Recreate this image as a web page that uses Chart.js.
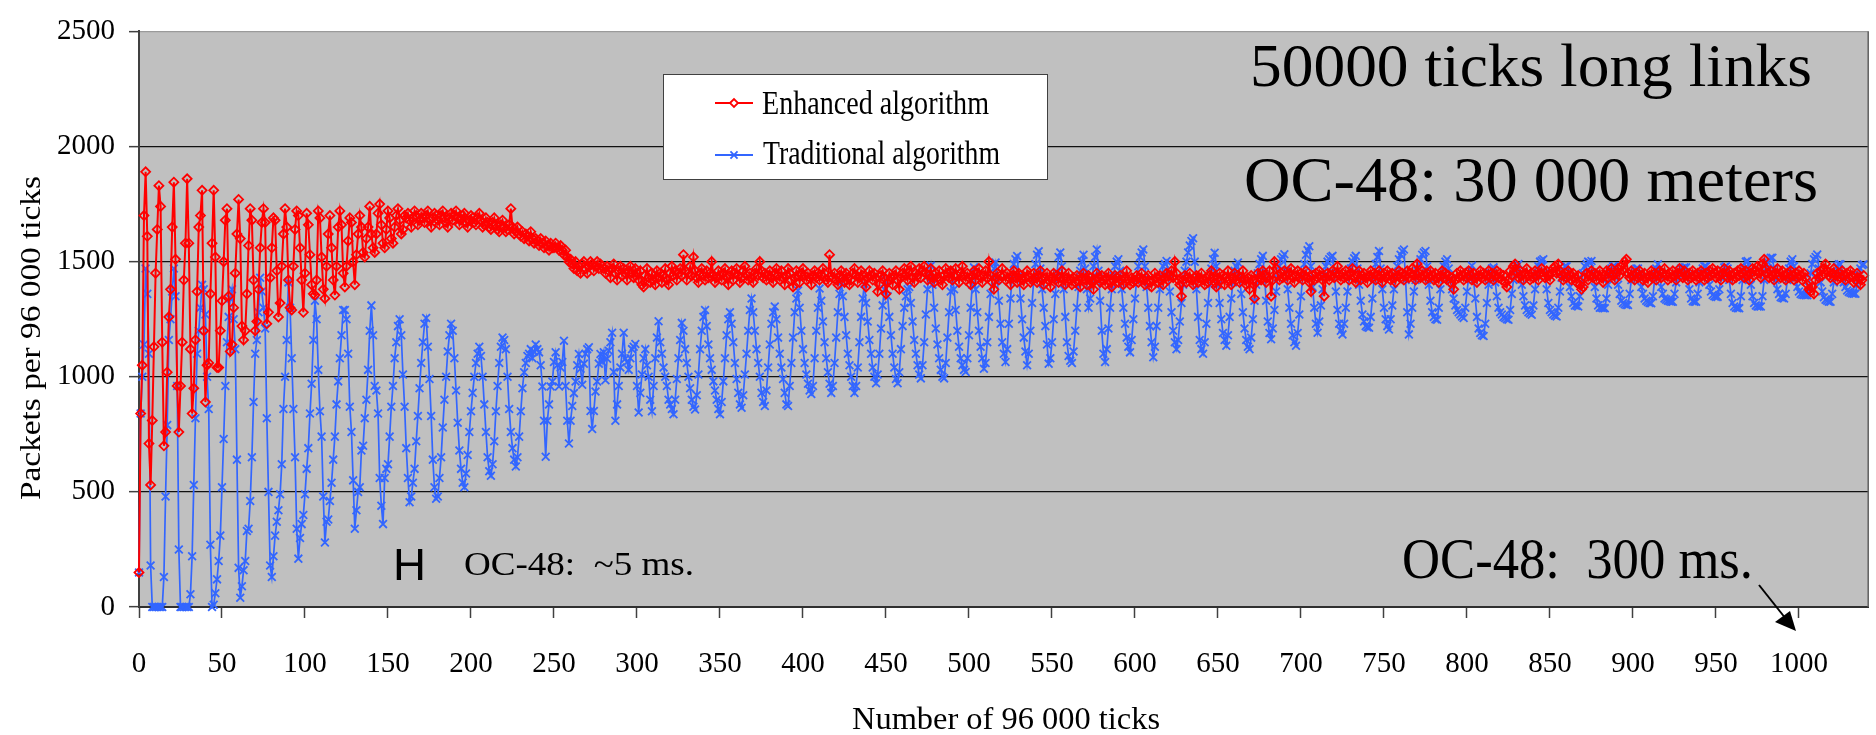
<!DOCTYPE html>
<html>
<head>
<meta charset="utf-8">
<title>Packets per 96 000 ticks</title>
<script src="https://cdn.jsdelivr.net/npm/chart.js@4.4.1/dist/chart.umd.min.js"></script>
<style>
  html, body { margin: 0; padding: 0; background: #fff; }
  canvas { display: block; }
</style>
</head>
<body>
<canvas id="packetsChart" width="1876" height="735"></canvas>
<script>
// ------------------------------------------------------------
// Data: packets per 96 000 ticks, one value per interval
// ------------------------------------------------------------
const seriesNames = ['Enhanced algorithm', 'Traditional algorithm'];

const enhanced = [
  150,840,1050,1700,1890,1610,710,530,810,1130,1450,1640,1830,1740,1150,700,760,1020,1260,1380,
  1650,1845,1510,960,760,960,1150,1420,1580,1860,1580,1120,840,950,1160,1370,1650,1700,1810,1200,
  890,1050,1060,1360,1580,1810,1520,1040,1040,1200,1330,1500,1680,1730,1350,1110,1140,1300,1450,1620,
  1770,1600,1220,1160,1200,1360,1570,1730,1680,1420,1200,1240,1380,1560,1670,1730,1670,1230,1280,1430,
  1560,1690,1680,1460,1260,1320,1480,1620,1730,1650,1420,1300,1290,1480,1640,1720,1700,1560,1420,1280,
  1450,1710,1660,1530,1400,1360,1355,1420,1720,1690,1520,1380,1340,1480,1620,1700,1560,1420,1355,1480,
  1650,1720,1660,1450,1390,1480,1590,1690,1670,1500,1400,1530,1620,1700,1650,1540,1520,1600,1650,1740,
  1620,1560,1540,1620,1710,1750,1660,1580,1560,1640,1720,1690,1600,1580,1650,1700,1730,1680,1620,1640,
  1700,1690,1710,1680,1650,1690,1720,1700,1660,1680,1710,1690,1670,1700,1720,1680,1650,1690,1710,1700,
  1680,1660,1700,1720,1690,1670,1650,1690,1710,1680,1700,1720,1690,1660,1680,1700,1710,1670,1650,1680,
  1700,1690,1670,1660,1690,1710,1680,1650,1660,1690,1670,1650,1640,1670,1690,1660,1640,1630,1660,1680,
  1650,1630,1640,1660,1730,1650,1620,1630,1650,1620,1610,1630,1600,1620,1610,1590,1630,1600,1580,1600,
  1590,1570,1600,1580,1560,1590,1570,1550,1580,1560,1560,1580,1560,1550,1570,1550,1530,1550,1520,1500,
  1510,1490,1470,1500,1460,1480,1450,1490,1500,1470,1450,1480,1500,1490,1460,1480,1500,1470,1490,1480,
  1470,1450,1480,1460,1430,1470,1490,1450,1420,1460,1480,1440,1470,1450,1420,1460,1480,1450,1430,1470,
  1450,1420,1460,1400,1390,1440,1470,1430,1410,1450,1420,1400,1460,1430,1450,1410,1440,1470,1420,1400,
  1450,1480,1440,1460,1420,1450,1470,1440,1530,1460,1420,1450,1480,1440,1520,1460,1430,1410,1450,1470,
  1440,1420,1460,1430,1450,1500,1440,1410,1430,1460,1440,1420,1450,1470,1430,1400,1440,1460,1420,1450,
  1470,1440,1410,1430,1460,1480,1440,1420,1450,1430,1410,1450,1470,1440,1500,1460,1430,1450,1420,1440,
  1460,1430,1410,1450,1470,1440,1420,1460,1430,1400,1440,1470,1450,1420,1390,1430,1460,1440,1410,1450,
  1470,1440,1420,1450,1430,1400,1440,1460,1430,1450,1420,1440,1470,1450,1420,1410,1530,1440,1430,1450,
  1420,1400,1440,1460,1430,1410,1450,1430,1400,1420,1450,1470,1440,1410,1430,1460,1440,1420,1390,1430,
  1460,1440,1420,1450,1430,1370,1400,1440,1460,1430,1360,1410,1450,1430,1400,1440,1460,1420,1380,1430,
  1450,1470,1440,1420,1460,1480,1430,1410,1450,1440,1470,1430,1460,1480,1450,1420,1440,1470,1430,1410,
  1450,1430,1460,1420,1400,1440,1470,1450,1430,1460,1420,1440,1470,1440,1410,1450,1480,1440,1420,1450,
  1430,1400,1440,1460,1420,1450,1470,1430,1410,1440,1460,1430,1500,1440,1410,1380,1430,1450,1420,1440,
  1470,1440,1420,1450,1430,1400,1440,1460,1430,1410,1450,1440,1420,1400,1430,1460,1440,1410,1420,1450,
  1430,1410,1440,1460,1420,1400,1430,1450,1420,1390,1430,1450,1420,1440,1410,1430,1460,1420,1400,1430,
  1450,1420,1400,1430,1410,1440,1420,1390,1430,1450,1420,1400,1440,1430,1410,1380,1420,1450,1430,1410,
  1440,1420,1400,1430,1450,1410,1390,1420,1440,1430,1410,1440,1420,1400,1430,1460,1420,1400,1430,1410,
  1420,1440,1410,1430,1450,1420,1400,1430,1440,1410,1390,1420,1450,1430,1410,1440,1420,1400,1430,1450,
  1420,1440,1460,1430,1500,1450,1420,1400,1350,1420,1440,1410,1430,1450,1420,1400,1430,1440,1410,1430,
  1450,1420,1400,1430,1410,1440,1460,1430,1410,1390,1430,1450,1420,1440,1400,1430,1460,1420,1400,1430,
  1450,1420,1440,1410,1430,1460,1420,1400,1430,1380,1440,1420,1340,1410,1450,1430,1420,1460,1440,1410,
  1430,1460,1350,1420,1500,1470,1440,1420,1450,1430,1460,1440,1420,1450,1470,1430,1410,1440,1460,1430,
  1450,1420,1440,1460,1430,1410,1370,1440,1420,1450,1430,1460,1440,1420,1350,1430,1450,1420,1440,1460,
  1430,1450,1480,1440,1420,1450,1430,1460,1440,1420,1450,1470,1430,1410,1440,1460,1420,1440,1450,1430,
  1410,1440,1460,1430,1450,1420,1440,1460,1430,1410,1450,1430,1460,1440,1420,1450,1430,1410,1440,1460,
  1430,1450,1420,1440,1460,1430,1450,1470,1440,1420,1490,1450,1430,1460,1440,1420,1450,1430,1460,1440,
  1420,1450,1430,1410,1440,1460,1430,1450,1420,1440,1410,1430,1380,1420,1450,1430,1460,1440,1420,1450,
  1430,1460,1440,1420,1450,1430,1410,1440,1460,1430,1450,1420,1440,1460,1430,1450,1420,1440,1460,1430,
  1450,1420,1440,1410,1390,1420,1460,1440,1480,1490,1450,1430,1460,1440,1420,1450,1470,1440,1420,1450,
  1430,1460,1440,1420,1450,1470,1440,1430,1460,1440,1420,1450,1470,1480,1450,1490,1460,1440,1420,1450,
  1430,1460,1440,1420,1450,1430,1410,1440,1400,1380,1390,1430,1450,1420,1440,1460,1430,1450,1420,1440,
  1460,1430,1410,1440,1460,1430,1450,1470,1440,1420,1450,1470,1440,1480,1460,1500,1510,1450,1430,1460,
  1440,1420,1450,1430,1460,1440,1420,1450,1430,1410,1440,1460,1430,1450,1420,1440,1460,1430,1450,1470,
  1440,1420,1450,1430,1460,1440,1420,1450,1470,1440,1430,1460,1440,1420,1450,1430,1460,1440,1420,1450,
  1430,1460,1440,1420,1450,1430,1460,1440,1470,1450,1430,1460,1440,1420,1450,1470,1440,1430,1460,1440,
  1420,1450,1430,1460,1440,1470,1450,1430,1460,1440,1420,1450,1470,1440,1460,1480,1450,1430,1490,1510,
  1470,1450,1430,1460,1440,1420,1450,1470,1440,1430,1460,1440,1420,1450,1430,1460,1440,1420,1450,1430,
  1460,1440,1420,1450,1430,1400,1380,1370,1390,1360,1420,1450,1430,1460,1440,1470,1490,1460,1440,1430,
  1450,1470,1440,1420,1450,1430,1460,1440,1420,1450,1430,1460,1440,1410,1420,1450,1430,1400,1420,1440
];

const traditional = [
  150,840,1000,1140,1470,1360,1100,180,0,0,0,0,0,0,0,130,480,790,1160,1250,
  1370,1470,1350,960,250,0,0,0,0,0,0,55,220,530,820,1100,1200,1300,1400,1380,
  1270,1000,860,270,0,10,60,120,200,310,520,730,960,1150,1260,1340,1380,1250,1120,640,
  170,40,90,160,200,330,340,460,650,890,1100,1160,1280,1430,1370,1300,1210,820,500,180,
  130,220,310,370,420,490,620,860,1000,1160,1410,1300,1080,860,650,340,210,300,360,400,
  490,600,690,840,970,1160,1330,1250,1030,850,740,480,280,370,380,460,540,640,740,880,
  980,1080,1180,1290,1290,1250,1100,870,760,550,340,420,500,520,680,700,820,900,1030,1200,
  1310,1180,960,940,840,560,440,360,560,600,620,740,870,960,1080,1150,1220,1250,1180,1010,
  870,690,560,455,480,540,600,720,830,950,1060,1150,1230,1255,1130,990,830,640,520,470,
  480,560,650,780,900,1000,1110,1180,1230,1200,1080,940,800,680,600,540,520,580,660,760,
  850,930,1000,1060,1100,1130,1090,1000,880,760,650,590,570,620,720,850,960,1060,1130,1170,
  1160,1120,1000,860,760,690,640,610,650,740,850,950,1020,1060,1090,1100,1120,1080,1110,1140,
  1120,1106,1050,958,809,653,809,880,958,979,1064,1106,1050,958,1040,1064,1156,960,809,710,
  809,873,929,979,1050,1099,1035,965,1057,1100,1120,1128,851,773,851,936,979,1057,1099,1064,
  1106,985,1078,1113,1150,1191,1021,809,880,960,1040,1100,1191,1078,1064,1030,1080,1120,1130,1142,
  960,845,930,1010,1080,1120,1050,1000,900,850,960,1080,1170,1241,1150,1100,1040,1000,960,900,
  880,860,837,900,990,1080,1160,1234,1200,1120,1060,1000,950,900,870,858,920,1010,1120,1200,
  1260,1290,1220,1140,1080,1030,980,940,900,860,837,890,980,1080,1180,1250,1280,1230,1150,1060,
  990,930,880,865,920,1010,1100,1200,1290,1340,1280,1200,1120,1060,1000,930,890,873,940,1040,
  1140,1230,1280,1305,1250,1170,1100,1040,990,930,880,873,960,1060,1170,1280,1340,1375,1300,1200,
  1120,1060,1010,970,940,925,960,1080,1200,1300,1383,1330,1240,1150,1080,1020,970,930,960,1060,
  1170,1280,1360,1411,1350,1260,1180,1100,1050,1000,960,930,960,1040,1150,1260,1340,1404,1320,1240,
  1160,1100,1040,1000,972,1010,1100,1210,1310,1380,1418,1350,1260,1180,1100,1040,990,972,1020,1120,
  1220,1300,1350,1380,1390,1320,1240,1160,1100,1050,1010,993,1050,1150,1270,1380,1440,1482,1400,1300,
  1210,1140,1080,1030,1000,993,1060,1170,1280,1370,1440,1380,1290,1200,1130,1080,1050,1030,1021,1080,
  1180,1300,1400,1475,1380,1280,1200,1130,1080,1035,1060,1150,1260,1360,1430,1470,1496,1420,1330,1230,
  1150,1100,1064,1120,1230,1340,1430,1490,1510,1524,1440,1340,1250,1170,1110,1050,1100,1200,1320,1420,
  1490,1530,1545,1470,1380,1300,1220,1140,1057,1080,1150,1250,1360,1450,1520,1540,1480,1380,1260,1150,
  1090,1070,1060,1110,1200,1300,1390,1460,1500,1530,1470,1380,1300,1340,1420,1480,1520,1553,1460,1330,
  1200,1100,1064,1120,1210,1300,1380,1440,1480,1500,1510,1460,1380,1300,1230,1170,1130,1106,1160,1250,
  1340,1420,1480,1520,1540,1553,1480,1390,1300,1220,1150,1085,1130,1220,1300,1380,1440,1480,1490,1503,
  1450,1370,1280,1200,1150,1120,1160,1240,1320,1400,1460,1500,1540,1570,1590,1602,1500,1380,1260,1160,
  1120,1100,1150,1230,1320,1400,1470,1510,1539,1480,1400,1320,1250,1190,1160,1135,1180,1260,1340,1410,
  1460,1480,1496,1440,1360,1280,1210,1160,1130,1120,1170,1250,1330,1400,1450,1490,1510,1525,1440,1330,
  1240,1190,1163,1210,1290,1370,1430,1480,1510,1520,1532,1460,1380,1300,1230,1180,1150,1135,1190,1270,
  1350,1430,1490,1530,1550,1567,1480,1390,1300,1230,1191,1240,1310,1380,1440,1480,1500,1510,1520,1525,
  1450,1370,1290,1230,1200,1184,1230,1300,1370,1430,1470,1500,1515,1525,1470,1400,1330,1270,1240,1220,
  1215,1213,1260,1340,1420,1490,1520,1546,1470,1380,1300,1250,1220,1205,1250,1310,1380,1440,1480,1510,
  1530,1545,1553,1420,1280,1184,1230,1300,1370,1420,1460,1490,1510,1530,1540,1546,1480,1400,1330,1280,
  1260,1250,1248,1300,1380,1440,1480,1500,1510,1470,1420,1380,1340,1310,1290,1280,1270,1262,1255,1300,
  1370,1430,1460,1482,1420,1340,1260,1210,1190,1180,1177,1230,1320,1400,1450,1470,1475,1410,1350,1300,
  1280,1270,1260,1255,1250,1248,1290,1360,1420,1460,1480,1490,1450,1400,1350,1310,1290,1280,1275,1269,
  1310,1380,1440,1480,1500,1505,1510,1450,1380,1320,1290,1280,1270,1265,1262,1300,1370,1430,1460,1480,
  1480,1440,1390,1350,1320,1310,1308,1305,1350,1410,1450,1480,1490,1500,1495,1503,1450,1390,1340,1310,
  1300,1300,1298,1298,1340,1400,1450,1470,1480,1480,1440,1400,1360,1330,1320,1315,1312,1312,1360,1420,
  1450,1460,1470,1470,1430,1390,1360,1340,1330,1325,1320,1319,1350,1420,1470,1489,1440,1390,1360,1340,
  1335,1330,1328,1326,1326,1360,1410,1440,1460,1470,1472,1475,1475,1440,1380,1340,1328,1326,1326,1360,
  1410,1450,1470,1480,1480,1440,1400,1370,1355,1350,1347,1347,1380,1430,1460,1475,1480,1470,1420,1360,
  1320,1305,1300,1298,1298,1350,1420,1470,1500,1503,1460,1400,1350,1320,1310,1305,1305,1305,1350,1420,
  1470,1500,1510,1517,1517,1470,1420,1380,1360,1345,1342,1340,1360,1420,1470,1500,1510,1480,1430,1390,
  1370,1360,1356,1355,1354,1354,1390,1450,1490,1510,1520,1531,1470,1410,1370,1345,1335,1330,1326,1326,
  1360,1410,1450,1480,1489,1489,1450,1410,1390,1375,1368,1365,1362,1361,1361,1400,1440,1470,1485,1489
];

// interval numbers on the x axis (0, 1, 2, ...)
const intervals = enhanced.map((_, i) => i);

const xMax = 1042;
const xTickStep = 50;
const yMax = 2500;
const yTickStep = 500;

const yTitle = 'Packets per 96 000 ticks';
const xTitle = 'Number of 96 000 ticks';
const notes = {
    length: '50000 ticks long links',
    distance: 'OC-48: 30 000 meters',
    rtt: 'OC-48:  300 ms.',
    short: 'OC-48:  ~5 ms.'
};

const SERIF = 'Liberation Serif';

// draws text squeezed/stretched to a given width (the picture is not uniformly scaled)
function fitText(ctx, text, x, y, size, family, width, align, baseline, rotate) {
    ctx.save();
    ctx.font = size + 'px "' + family + '"';
    const w = ctx.measureText(text).width;
    ctx.translate(x, y);
    if (rotate) ctx.rotate(-Math.PI / 2);
    ctx.scale(width / w, 1);
    ctx.textAlign = align;
    ctx.textBaseline = baseline;
    ctx.fillStyle = '#000';
    ctx.fillText(text, 0, 0);
    ctx.restore();
}

// grey plot area on white page
const plotBackground = {
    id: 'plotBackground',
    beforeDraw(chart) {
        const { ctx, chartArea: a } = chart;
        ctx.save();
        ctx.fillStyle = '#ffffff';
        ctx.fillRect(0, 0, chart.width, chart.height);
        ctx.fillStyle = '#c0c0c0';
        ctx.fillRect(a.left, a.top, a.right - a.left, a.bottom - a.top);
        ctx.restore();
    }
};

// legend box, axis titles, notes and arrow
const decorations = {
    id: 'decorations',
    afterDraw(chart) {
        const { ctx, chartArea: a } = chart;
        ctx.save();

        // right frame line
        ctx.strokeStyle = '#606060';
        ctx.lineWidth = 1.5;
        ctx.beginPath();
        ctx.moveTo(a.right - 0.5, a.top);
        ctx.lineTo(a.right - 0.5, a.bottom);
        ctx.stroke();

        // legend
        ctx.fillStyle = '#ffffff';
        ctx.fillRect(663, 74, 384, 105);
        ctx.strokeStyle = '#404040';
        ctx.lineWidth = 1;
        ctx.strokeRect(663.5, 74.5, 384, 105);

        const rows = [103, 155];
        chart.data.datasets.forEach((ds, i) => {
            const y = rows[i];
            ctx.strokeStyle = ds.borderColor;
            ctx.lineWidth = 2;
            ctx.beginPath();
            ctx.moveTo(715, y);
            ctx.lineTo(753, y);
            ctx.stroke();
            ctx.lineWidth = ds.pointBorderWidth;
            Chart.helpers.drawPoint(ctx, {
                pointStyle: ds.pointStyle,
                radius: ds.pointRadius - 0.5,
                rotation: 0,
                borderWidth: ds.pointBorderWidth
            }, 734, y);
        });
        fitText(ctx, seriesNames[0], 762, 105, 34, SERIF, 227, 'left', 'middle');
        fitText(ctx, seriesNames[1], 763, 155, 34, SERIF, 237, 'left', 'middle');

        // axis titles
        fitText(ctx, yTitle, 32, 338, 29, SERIF, 324, 'center', 'middle', true);
        fitText(ctx, xTitle, 1006, 729, 32, SERIF, 308, 'center', 'alphabetic');

        // notes
        fitText(ctx, notes.length, 1250, 86, 62, SERIF, 562, 'left', 'alphabetic');
        fitText(ctx, notes.distance, 1244, 201, 64, SERIF, 574, 'left', 'alphabetic');
        fitText(ctx, notes.rtt, 1402, 578, 56, SERIF, 351, 'left', 'alphabetic');
        fitText(ctx, notes.short, 464, 575, 33, SERIF, 230, 'left', 'alphabetic');
        fitText(ctx, 'H', 393, 580, 45, 'Liberation Sans', 33, 'left', 'alphabetic');

        // arrow to the 1000 mark
        ctx.strokeStyle = '#000';
        ctx.fillStyle = '#000';
        ctx.lineWidth = 2;
        ctx.beginPath();
        ctx.moveTo(1759, 585);
        ctx.lineTo(1786, 619);
        ctx.stroke();
        ctx.beginPath();
        ctx.moveTo(1796, 631);
        ctx.lineTo(1775, 622);
        ctx.lineTo(1790, 611);
        ctx.closePath();
        ctx.fill();

        ctx.restore();
    }
};

const packetsChart = new Chart(document.getElementById('packetsChart'), {
    type: 'line',
    data: {
        datasets: [
            {
                label: seriesNames[0],
                data: enhanced.map((v, i) => ({ x: intervals[i], y: v })),
                borderColor: '#ff0000',
                borderWidth: 2,
                pointStyle: 'rectRot',
                pointRadius: 4.5,
                pointBorderWidth: 1.8,
                pointBorderColor: '#ff0000',
                pointBackgroundColor: 'rgba(0,0,0,0)',
                tension: 0,
                clip: false
            },
            {
                label: seriesNames[1],
                data: traditional.map((v, i) => ({ x: intervals[i], y: v })),
                borderColor: '#3366ff',
                borderWidth: 1.7,
                pointStyle: 'crossRot',
                pointRadius: 5.5,
                pointBorderWidth: 1.8,
                pointBorderColor: '#3366ff',
                pointBackgroundColor: '#3366ff',
                tension: 0,
                clip: false
            }
        ]
    },
    options: {
        responsive: false,
        animation: false,
        events: [],
        layout: { padding: { top: 19, right: 1, left: 0, bottom: 0 } },
        plugins: {
            legend: { display: false },
            tooltip: { enabled: false }
        },
        scales: {
            x: {
                type: 'linear',
                min: 0,
                max: xMax,
                afterFit: (s) => { s.height = 128; },
                ticks: {
                    stepSize: xTickStep,
                    includeBounds: false,
                    autoSkip: false,
                    maxRotation: 0,
                    padding: 29,
                    color: '#000',
                    font: { family: SERIF, size: 29 },
                    callback: (v) => String(v)
                },
                grid: {
                    drawOnChartArea: false,
                    drawTicks: true,
                    tickLength: 11,
                    tickColor: '#404040',
                    tickWidth: 1.5
                },
                border: { color: '#303030', width: 2 }
            },
            y: {
                min: 0,
                max: yMax,
                afterFit: (s) => { s.width = 139; },
                ticks: {
                    stepSize: yTickStep,
                    padding: 14,
                    color: '#000',
                    font: { family: SERIF, size: 29 },
                    callback: (v) => String(v)
                },
                grid: {
                    color: (c) => (c.tick && c.tick.value === yMax ? '#9a9a9a' : '#111111'),
                    lineWidth: 1.3,
                    tickLength: 10,
                    tickColor: '#404040',
                    tickWidth: 1.5
                },
                border: { color: '#404040', width: 2 }
            }
        }
    },
    plugins: [plotBackground, decorations]
});
</script>
</body>
</html>
